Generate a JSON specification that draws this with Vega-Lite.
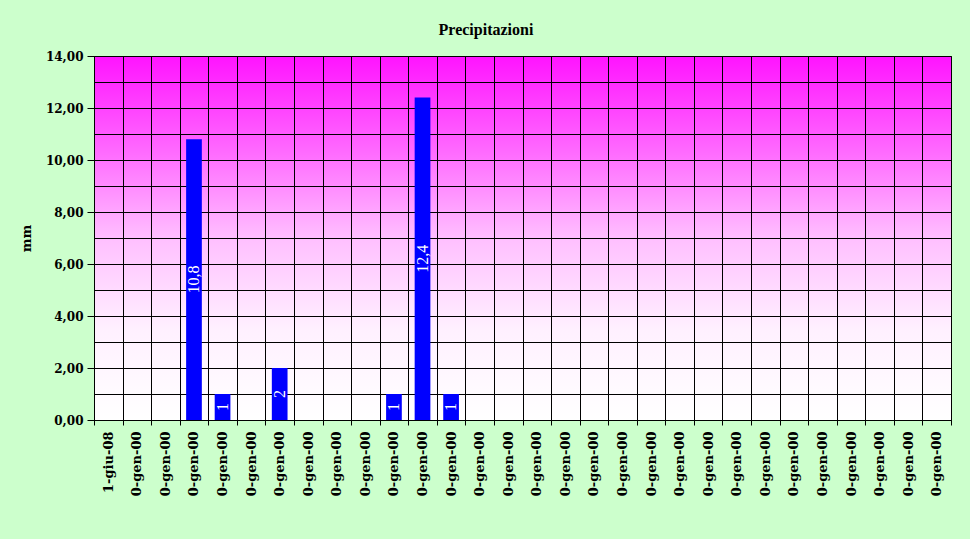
{
  "$schema": "https://vega.github.io/schema/vega-lite/v6.json",
  "width": 857,
  "height": 364,
  "autosize": {"type": "none"},
  "padding": {"left": 94, "top": 56, "right": 19, "bottom": 119},
  "background": "#ccffcc",
  "title": {
    "text": "Precipitazioni",
    "anchor": "middle",
    "frame": "bounds",
    "font": "Liberation Serif",
    "fontSize": 16,
    "fontWeight": "bold",
    "color": "#000000",
    "offset": 12
  },
  "config": {
    "view": {
      "stroke": "#000000",
      "strokeWidth": 1,
      "fill": {
        "gradient": "linear",
        "x1": 0, "y1": 0, "x2": 0, "y2": 1,
        "stops": [
          {"offset": 0, "color": "#ff14ff"},
          {"offset": 0.25, "color": "#ff66ff"},
          {"offset": 0.5, "color": "#ffbfff"},
          {"offset": 0.75, "color": "#fff0ff"},
          {"offset": 1, "color": "#ffffff"}
        ]
      }
    },
    "axis": {
      "labelFont": "DejaVu Serif",
      "labelFontSize": 13,
      "labelFontWeight": "bold",
      "labelColor": "#000000",
      "titleFont": "DejaVu Serif",
      "titleFontSize": 13,
      "titleFontWeight": "bold",
      "titleColor": "#000000",
      "domainColor": "#000000",
      "tickColor": "#000000",
      "gridColor": "#000000",
      "gridOpacity": 1,
      "gridWidth": 1
    }
  },
  "data": {
    "values": [
      {"giorno": "01|1-giu-08", "mm": 0},
      {"giorno": "02|0-gen-00", "mm": 0},
      {"giorno": "03|0-gen-00", "mm": 0},
      {"giorno": "04|0-gen-00", "mm": 10.8},
      {"giorno": "05|0-gen-00", "mm": 1},
      {"giorno": "06|0-gen-00", "mm": 0},
      {"giorno": "07|0-gen-00", "mm": 2},
      {"giorno": "08|0-gen-00", "mm": 0},
      {"giorno": "09|0-gen-00", "mm": 0},
      {"giorno": "10|0-gen-00", "mm": 0},
      {"giorno": "11|0-gen-00", "mm": 1},
      {"giorno": "12|0-gen-00", "mm": 12.4},
      {"giorno": "13|0-gen-00", "mm": 1},
      {"giorno": "14|0-gen-00", "mm": 0},
      {"giorno": "15|0-gen-00", "mm": 0},
      {"giorno": "16|0-gen-00", "mm": 0},
      {"giorno": "17|0-gen-00", "mm": 0},
      {"giorno": "18|0-gen-00", "mm": 0},
      {"giorno": "19|0-gen-00", "mm": 0},
      {"giorno": "20|0-gen-00", "mm": 0},
      {"giorno": "21|0-gen-00", "mm": 0},
      {"giorno": "22|0-gen-00", "mm": 0},
      {"giorno": "23|0-gen-00", "mm": 0},
      {"giorno": "24|0-gen-00", "mm": 0},
      {"giorno": "25|0-gen-00", "mm": 0},
      {"giorno": "26|0-gen-00", "mm": 0},
      {"giorno": "27|0-gen-00", "mm": 0},
      {"giorno": "28|0-gen-00", "mm": 0},
      {"giorno": "29|0-gen-00", "mm": 0},
      {"giorno": "30|0-gen-00", "mm": 0}
    ]
  },
  "encoding": {
    "x": {
      "field": "giorno",
      "type": "nominal",
      "sort": null,
      "scale": {"paddingInner": 0, "paddingOuter": 0},
      "axis": {
        "title": null,
        "labelExpr": "split(datum.value, '|')[1]",
        "labelAngle": -90,
        "labelAlign": "right",
        "labelBaseline": "middle",
        "labelPadding": 6,
        "tickBand": "extent",
        "tickSize": 5,
        "grid": true,
        "domain": true
      }
    },
    "y": {
      "field": "mm",
      "type": "quantitative",
      "scale": {"domain": [0, 14], "nice": false},
      "axis": {
        "title": "mm",
        "titlePadding": 12,
        "values": [0, 1, 2, 3, 4, 5, 6, 7, 8, 9, 10, 11, 12, 13, 14],
        "labelExpr": "datum.value % 2 == 0 ? replace(format(datum.value, '.2f'), '.', ',') : ''",
        "labelFontSize": 12,
        "tickSize": 7,
        "tickOpacity": {"condition": {"test": "datum.value % 2 == 0", "value": 1}, "value": 0},
        "labelPadding": 4,
        "grid": true,
        "domain": true
      }
    }
  },
  "layer": [
    {
      "mark": {"type": "bar", "color": "#0000ff", "width": {"band": 0.55}}
    },
    {
      "transform": [
        {"filter": "datum.mm > 0"},
        {"calculate": "datum.mm / 2", "as": "meta"},
        {"calculate": "replace(toString(datum.mm), '.', ',')", "as": "etichetta"}
      ],
      "mark": {
        "type": "text",
        "angle": 270,
        "color": "#ffffff",
        "font": "Liberation Serif",
        "fontSize": 16,
        "align": "center",
        "baseline": "middle"
      },
      "encoding": {
        "y": {"field": "meta", "type": "quantitative"},
        "text": {"field": "etichetta"}
      }
    }
  ]
}
